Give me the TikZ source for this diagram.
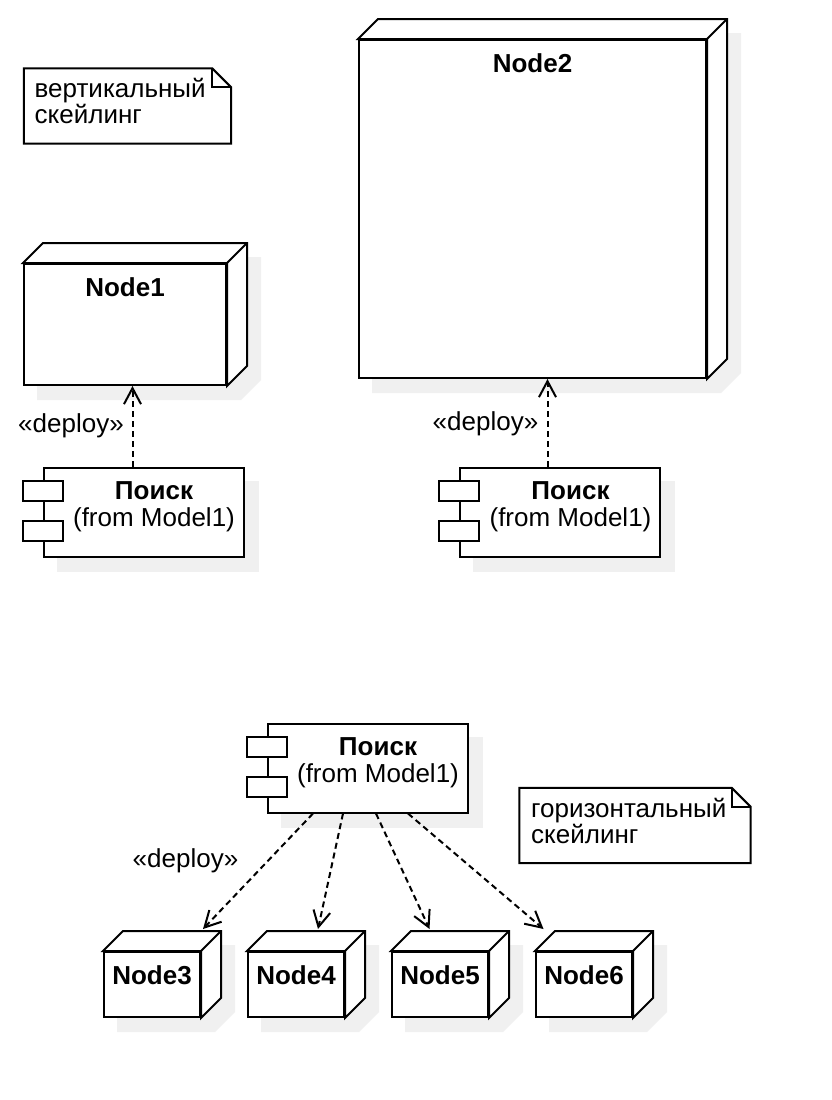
\documentclass[tikz,border=0pt]{standalone}
\usepackage{fontspec}
\setmainfont{Liberation Sans}
\usetikzlibrary{calc,arrows.meta}

\pgfdeclarelayer{background}
\pgfsetlayers{background,main}

% deployment node: front face, 3d edge and shadow
\newcommand\depnode[4]{%
  \node[frontface, minimum width=#3, minimum height=#4] (#1) at (#2) {};
  \begin{pgfonlayer}{background}
    \fill[shadowfill] ($(#1.north west)+(14,14)$) -- ++(20,-20) -| ($(#1.south east)+(34,-6)$)
      -- ($(#1.south east)+(14,14)$) -- ($(#1.south west)+(14,14)$) -- cycle;
  \end{pgfonlayer}
  \draw[outline, fill=white] (#1.north west) -- ++(20,-20) -| ($(#1.south east)+(20,-20)$)
    -- (#1.south east) -- (#1.north east) -- cycle;
  \draw[outline] (#1.north east) -- ++(20,-20);
}

% component with its two tabs
\newcommand\depcomp[2]{%
  \node[frontface, minimum width=200, minimum height=89] (#1) at (#2) {};
  \begin{pgfonlayer}{background}
    \fill[shadowfill] ($(#1.north west)+(14,14)$) rectangle ($(#1.south east)+(14,14)$);
  \end{pgfonlayer}
  \node[frontface, minimum width=40, minimum height=20] (#1a) at ($(#1.west)+(0,-21)$) {};
  \node[frontface, minimum width=40, minimum height=20] (#1b) at ($(#1.west)+(0,19)$) {};
  \node[title, anchor=base] (#1t) at ($(#1.north)+(10.5,32.5)$) {Поиск};
  \node[anchor=base] (#1f) at ($(#1.north)+(10.5,59.5)$) {(from Model1)};
}

\begin{document}
\begin{tikzpicture}
 [x=1pt,y=-1pt,
  every node/.style={font=\fontsize{26}{27}\selectfont, inner sep=0pt},
  title/.style={font=\fontsize{26}{27}\selectfont\bfseries},
  outline/.style={draw, line width=2pt, line join=miter},
  frontface/.style={outline, fill=white},
  shadowfill/.style={fill=black!6},
  notebox/.style={minimum width=#1, minimum height=75},
  dep/.style={draw, line width=2pt, dash pattern=on 6pt off 4pt, -{Straight Barb[length=16pt, width=17pt]}}]
 \begin{pgfonlayer}{background}
  \fill[white] (0,0) rectangle (832,1100);
 \end{pgfonlayer}
 \useasboundingbox (0,0) rectangle (832,1100);

 % notes
 \node[notebox=207] (note1) at (127.5,106) {};
 \draw[outline] (note1.north west) -- ([xshift=-19pt]note1.north east) -- ([yshift=-19pt]note1.north east)
   -- (note1.south east) -- (note1.south west) -- cycle;
 \draw[outline] ([xshift=-19pt]note1.north east) -- ++(0,19) -- ([yshift=-19pt]note1.north east);
 \node[anchor=base west] (note1a) at (34.5,97) {вертикальный};
 \node[anchor=base west] (note1b) at (34.5,123.5) {скейлинг};

 \node[notebox=231] (note2) at (635,825.5) {};
 \draw[outline] (note2.north west) -- ([xshift=-19pt]note2.north east) -- ([yshift=-19pt]note2.north east)
   -- (note2.south east) -- (note2.south west) -- cycle;
 \draw[outline] ([xshift=-19pt]note2.north east) -- ++(0,19) -- ([yshift=-19pt]note2.north east);
 \node[anchor=base west] (note2a) at (531,817) {горизонтальный};
 \node[anchor=base west] (note2b) at (531,843.5) {скейлинг};

 % vertical scaling
 \depnode{node1}{125,324.5}{202}{121}
 \depnode{node2}{532.5,209}{347}{338}
 \node[title, anchor=base] (node1t) at ($(node1.north)+(0,33)$) {Node1};
 \node[title, anchor=base] (node2t) at ($(node2.north)+(0,33)$) {Node2};
 \depcomp{comp1}{143.5,512}
 \depcomp{comp2}{560,512}
 \draw[dep] ([xshift=-11pt]comp1.north) -- ([xshift=-11pt]comp1.north |- node1.south);
 \draw[dep] ([xshift=-12.5pt]comp2.north) -- ([xshift=-12.5pt]comp2.north |- node2.south);
 \node[anchor=base] (dep1) at (71,432) {«deploy»};
 \node[anchor=base] (dep2) at (485.5,430) {«deploy»};

 % horizontal scaling
 \depcomp{comp3}{367.5,768}
 \foreach \n/\x in {3/152,4/296,5/440,6/584} {
  \depnode{node\n}{\x,984.5}{96}{65}
  \node[title, anchor=base] (node\n t) at ($(node\n.north)+(0,33)$) {Node\n};
 }
 \foreach \n/\s/\e in {3/-54.5/51,4/-24.5/22,5/8.5/-10.5,6/40.5/-40.5}
  \draw[dep] ([xshift=\s pt]comp3.south) -- ([xshift=\e pt, yshift=22pt]node\n.north);
 \node[anchor=base] (dep3) at (185.5,867) {«deploy»};
\end{tikzpicture}
\end{document}
